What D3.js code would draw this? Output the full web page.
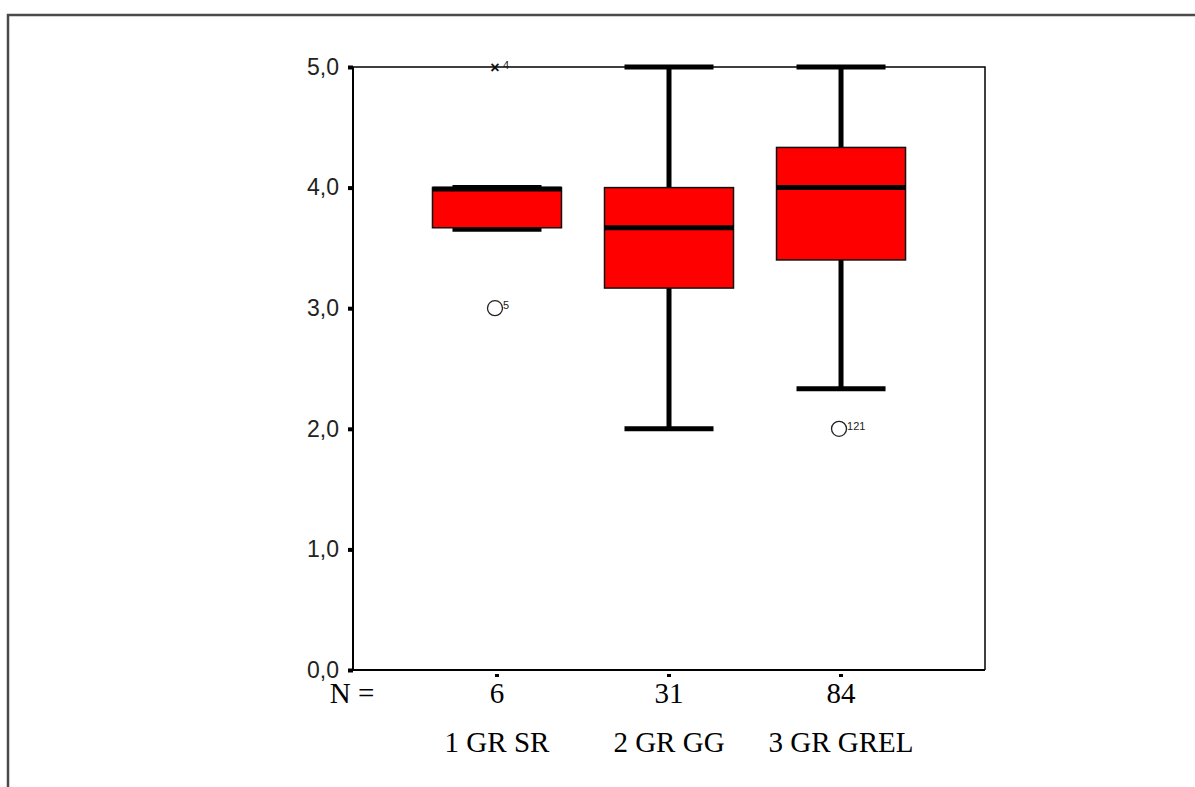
<!DOCTYPE html>
<html>
<head>
<meta charset="utf-8">
<script src="https://cdn.jsdelivr.net/npm/d3@7/dist/d3.min.js"></script>
<style>
  html, body { margin: 0; padding: 0; background: #fff; }
  svg { display: block; }
</style>
</head>
<body>
<svg id="chart" width="1195" height="787"></svg>
<script>
// ---- data ----
const categories = ["1 GR SR", "2 GR GG", "3 GR GREL"];
const counts = [6, 31, 84];
const whiskerLow = [3.667, 2.0, 2.333];
const q1 = [3.667, 3.167, 3.4];
const median = [4.0, 3.667, 4.0];
const q3 = [4.0, 4.0, 4.333];
const whiskerHigh = [4.0, 5.0, 5.0];
// outliers: category index, value, case label, type
const outlierCat = [0, 0, 2];
const outlierVal = [5.0, 3.0, 2.0];
const outlierCase = ["4", "5", "121"];
const outlierType = ["extreme", "outlier", "outlier"];
const yTicks = [0, 1, 2, 3, 4, 5];

// ---- layout ----
(function () {
const svg = d3.select("#chart");
const pLeft = 353, pRight = 985, pTop = 67, pBottom = 670;

const x = d3.scaleBand().domain(categories).range([pLeft, pRight])
  .paddingInner(0.25).paddingOuter(0.462).align(0.5);
const y = d3.scaleLinear().domain([0, 5]).range([pBottom, pTop]);

// outer frame (only top and left visible)
svg.append("path")
  .attr("d", `M8,787 L8,15 L1195,15`)
  .attr("fill", "none").attr("stroke", "#4a4a4a").attr("stroke-width", 2.5);

// plot frame
svg.append("path")
  .attr("d", `M${pLeft},${pTop} L${pRight},${pTop} L${pRight},${pBottom}`)
  .attr("fill", "none").attr("stroke", "#000").attr("stroke-width", 1.5);
svg.append("line").attr("x1", pLeft).attr("x2", pLeft).attr("y1", pTop).attr("y2", pBottom)
  .attr("stroke", "#000").attr("stroke-width", 2);
svg.append("line").attr("x1", pLeft).attr("x2", pRight).attr("y1", pBottom).attr("y2", pBottom)
  .attr("stroke", "#000").attr("stroke-width", 2);

// y axis
const fmt = d => d3.format(".1f")(d).replace(".", ",");
const yAxis = svg.append("g").attr("transform", `translate(${pLeft},0)`)
  .call(d3.axisLeft(y).tickValues(yTicks).tickFormat(fmt).tickSize(5).tickPadding(9));
yAxis.select(".domain").remove();
yAxis.selectAll(".tick line").attr("stroke", "#000").attr("stroke-width", 4);
yAxis.selectAll(".tick text")
  .attr("font-family", "Liberation Sans, Arial, sans-serif")
  .attr("font-size", 23).attr("fill", "#222");

// x tick dots
svg.append("g").selectAll("rect").data(categories).join("rect")
  .attr("x", d => x(d) + x.bandwidth() / 2 - 2)
  .attr("y", pBottom + 4).attr("width", 4).attr("height", 3).attr("fill", "#000");

// N labels
const serif = "Liberation Serif, Times New Roman, serif";
svg.append("text").attr("x", 352).attr("y", 703).attr("text-anchor", "middle")
  .attr("font-family", serif).attr("font-size", 29).text("N =");
svg.append("g").selectAll("text").data(categories).join("text")
  .attr("x", d => x(d) + x.bandwidth() / 2).attr("y", 703)
  .attr("text-anchor", "middle").attr("font-family", serif).attr("font-size", 29)
  .text((d, i) => counts[i]);

// category labels
svg.append("g").selectAll("text").data(categories).join("text")
  .attr("x", d => x(d) + x.bandwidth() / 2).attr("y", 752)
  .attr("text-anchor", "middle").attr("font-family", serif).attr("font-size", 29)
  .text(d => d);

// boxes
const bw = x.bandwidth();
const capW = bw * 0.69;
const g = svg.append("g");
categories.forEach((c, i) => {
  const cx = x(c) + bw / 2;
  g.append("line").attr("x1", cx).attr("x2", cx)
    .attr("y1", y(q3[i])).attr("y2", y(whiskerHigh[i]))
    .attr("stroke", "#000").attr("stroke-width", 5);
  g.append("line").attr("x1", cx).attr("x2", cx)
    .attr("y1", y(q1[i])).attr("y2", y(whiskerLow[i]))
    .attr("stroke", "#000").attr("stroke-width", 5);
  [whiskerLow[i], whiskerHigh[i]].forEach((v, k) => {
    const off = (k === 0 && whiskerLow[i] === q1[i]) ? 1.5 : 0;
    g.append("line").attr("x1", cx - capW / 2).attr("x2", cx + capW / 2)
      .attr("y1", y(v) + off).attr("y2", y(v) + off)
      .attr("stroke", "#000").attr("stroke-width", 5);
  });
  g.append("rect").attr("x", x(c)).attr("y", y(q3[i]))
    .attr("width", bw).attr("height", y(q1[i]) - y(q3[i]))
    .attr("fill", "#ff0000").attr("stroke", "#111").attr("stroke-width", 1.5);
  const mOff = median[i] === q3[i] ? 1.5 : 0;
  g.append("line").attr("x1", x(c)).attr("x2", x(c) + bw)
    .attr("y1", y(median[i]) + mOff).attr("y2", y(median[i]) + mOff)
    .attr("stroke", "#000").attr("stroke-width", 5);
});

// outliers
outlierVal.forEach((v, i) => {
  const cx = x(categories[outlierCat[i]]) + bw / 2 - 2;
  const cy = y(v);
  if (outlierType[i] === "outlier") {
    g.append("circle").attr("cx", cx).attr("cy", cy).attr("r", 7.5)
      .attr("fill", "none").attr("stroke", "#222").attr("stroke-width", 1.3);
    g.append("text").attr("x", cx + 8).attr("y", cy + 1)
      .attr("font-family", "Liberation Sans, Arial, sans-serif").attr("font-size", 11)
      .attr("fill", "#222").text(outlierCase[i]);
  } else {
    g.append("text").attr("x", cx).attr("y", cy + 6).attr("text-anchor", "middle")
      .attr("font-family", "Liberation Sans, Arial, sans-serif").attr("font-size", 16)
      .attr("font-weight", "bold").attr("fill", "#111").text("×");
    g.append("text").attr("x", cx + 8).attr("y", cy + 2)
      .attr("font-family", "Liberation Sans, Arial, sans-serif").attr("font-size", 11)
      .attr("fill", "#222").text(outlierCase[i]);
  }
});
})();
</script>
</body>
</html>
